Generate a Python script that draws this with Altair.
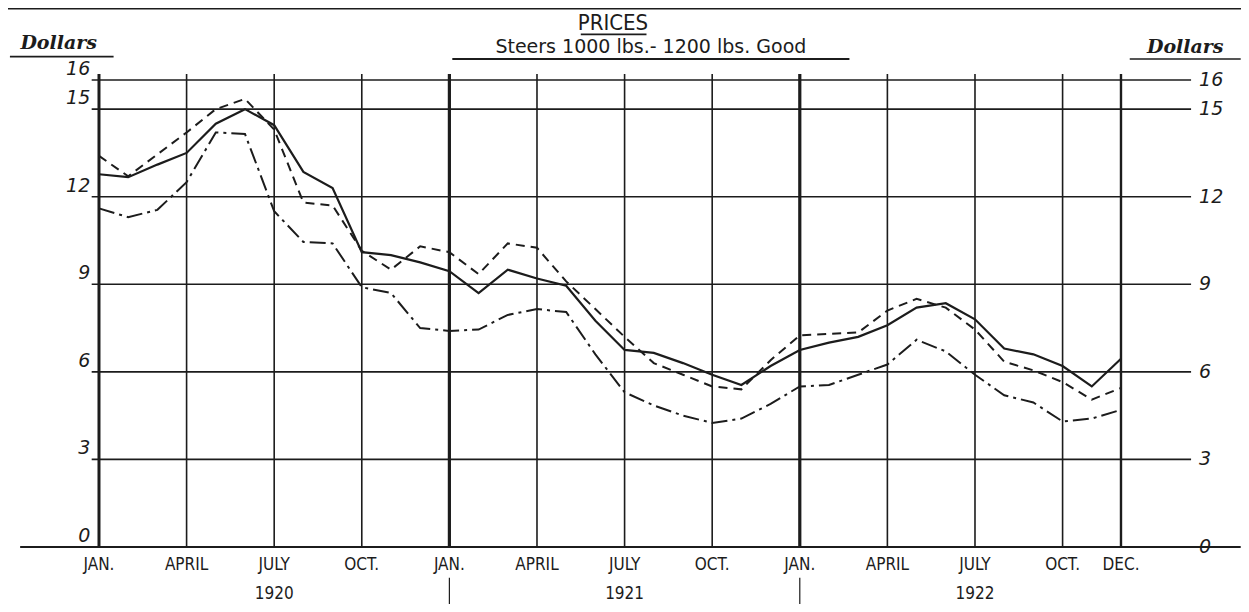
import altair as alt
import pandas as pd

# ---------------- data ----------------
months = list(range(36))  # Jan 1920 .. Dec 1922
solid = [12.77, 12.67, 13.1, 13.5, 14.5, 15.0, 14.45, 12.85, 12.3, 10.1, 10.0, 9.75,
         9.45, 8.7, 9.5, 9.2, 8.95, 7.75, 6.75, 6.65, 6.3, 5.9, 5.55, 6.2,
         6.75, 7.0, 7.2, 7.6, 8.2, 8.35, 7.8, 6.8, 6.6, 6.2, 5.5, 6.45]
dashed = [13.4, 12.7, 13.45, 14.2, 15.0, 15.35, 14.3, 11.8, 11.7, 10.15, 9.5, 10.3,
          10.1, 9.35, 10.4, 10.25, 9.1, 8.15, 7.2, 6.3, 5.9, 5.5, 5.4, 6.4,
          7.25, 7.3, 7.35, 8.1, 8.5, 8.2, 7.45, 6.35, 6.05, 5.65, 5.05, 5.45]
dashdot = [11.6, 11.3, 11.55, 12.5, 14.2, 14.15, 11.5, 10.45, 10.4, 8.9, 8.7, 7.5,
           7.4, 7.45, 7.95, 8.15, 8.05, 6.6, 5.3, 4.85, 4.5, 4.25, 4.4, 4.9,
           5.5, 5.55, 5.9, 6.25, 7.1, 6.7, 5.9, 5.2, 4.95, 4.3, 4.4, 4.7]

month_ticks = [0, 3, 6, 9, 12, 15, 18, 21, 24, 27, 30, 33, 35]
month_labels = ["JAN.", "APRIL", "JULY", "OCT.", "JAN.", "APRIL", "JULY", "OCT.",
                "JAN.", "APRIL", "JULY", "OCT.", "DEC."]
year_ticks = [6, 18, 30]
year_labels = ["1920", "1921", "1922"]
y_ticks = [0, 3, 6, 9, 12, 15, 16]
y_labels = ["0", "3", "6", "9", "12", "15", "16"]

title_text = "PRICES"
subtitle_text = "Steers  1000 lbs.- 1200 lbs. Good"
unit_text = "Dollars"

# ---------------- scales ----------------
XS = alt.Scale(domain=[-3.116, 39.11], nice=False, zero=False)
YS = alt.Scale(domain=[-1.953, 18.465], nice=False, zero=False)


def X(f):
    return alt.X(f, type="quantitative", scale=XS, axis=None)


def Y(f):
    return alt.Y(f, type="quantitative", scale=YS, axis=None)


INK = "#1c1c1c"

# horizontal grid lines
hgrid = pd.DataFrame({"v": [3, 6, 9, 12, 15, 16],
                      "m1": [-0.25] * 6, "m2": [37.4] * 6})
hgrid_layer = alt.Chart(hgrid).mark_rule(color=INK, strokeWidth=1.6).encode(
    x=X("m1"), x2=alt.X2("m2"), y=Y("v"))
zero_df = pd.DataFrame({"v": [0], "m1": [-2.7], "m2": [39.1]})
zero_layer = alt.Chart(zero_df).mark_rule(color=INK, strokeWidth=2).encode(
    x=X("m1"), x2=alt.X2("m2"), y=Y("v"))

# vertical grid lines
vm = [0, 3, 6, 9, 12, 15, 18, 21, 24, 27, 30, 33, 35]
vw = [3, 1.6, 1.6, 1.6, 3.2, 1.6, 1.6, 1.6, 3.2, 1.6, 1.6, 1.6, 2.4]
vgrid = pd.DataFrame({"m": vm, "v1": [0] * len(vm), "v2": [16.2] * len(vm), "w": vw})
vgrid_layer = alt.Chart(vgrid).mark_rule(color=INK).encode(
    x=X("m"), y=Y("v1"), y2=alt.Y2("v2"),
    strokeWidth=alt.StrokeWidth("w:Q", scale=None))
ydiv = pd.DataFrame({"m": [12, 24], "v1": [-1.05, -1.05], "v2": [-2.2, -2.2]})
ydiv_layer = alt.Chart(ydiv).mark_rule(color=INK, strokeWidth=1.2).encode(
    x=X("m"), y=Y("v1"), y2=alt.Y2("v2"))

# top border
top_df = pd.DataFrame({"v": [18.45], "m1": [-3.2], "m2": [39.2]})
top_layer = alt.Chart(top_df).mark_rule(color=INK, strokeWidth=2).encode(
    x=X("m1"), x2=alt.X2("m2"), y=Y("v"))

# series lines
df = pd.DataFrame({"m": months, "solid": solid, "dashed": dashed, "dashdot": dashdot})
line_solid = alt.Chart(df).mark_line(color=INK, strokeWidth=2.2).encode(
    x=X("m"), y=Y("solid"))
line_dashed = alt.Chart(df).mark_line(color=INK, strokeWidth=2, strokeDash=[9, 6]).encode(
    x=X("m"), y=Y("dashed"))
line_dashdot = alt.Chart(df).mark_line(color=INK, strokeWidth=2,
                                       strokeDash=[16, 5, 3, 5]).encode(
    x=X("m"), y=Y("dashdot"))

# y tick labels
LBL_FONT = "DejaVu Sans"
yl = pd.DataFrame({"v": y_ticks, "t": y_labels,
                   "ml": [-0.3] * len(y_ticks), "mr": [37.4] * len(y_ticks)})
left_lbl = alt.Chart(yl).mark_text(align="right", baseline="bottom", dx=0, dy=-1,
                                   font=LBL_FONT, fontStyle="italic", fontSize=19,
                                   color=INK).encode(
    x=X("ml"), y=Y("v"), text="t:N")
right_lbl = alt.Chart(yl).mark_text(align="left", baseline="middle", dx=8,
                                    font=LBL_FONT, fontStyle="italic", fontSize=19,
                                    color=INK).encode(
    x=X("mr"), y=Y("v"), text="t:N")

# month and year labels
ml = pd.DataFrame({"m": month_ticks, "t": month_labels, "v": [-0.6] * len(month_ticks)})
month_layer = alt.Chart(ml).mark_text(baseline="middle", font="DejaVu Sans Condensed, DejaVu Sans",
                                      fontSize=17, color=INK).encode(
    x=X("m"), y=Y("v"), text="t:N")
yr = pd.DataFrame({"m": year_ticks, "t": year_labels, "v": [-1.6] * 3})
year_layer = alt.Chart(yr).mark_text(baseline="middle", font="DejaVu Sans Condensed, DejaVu Sans",
                                     fontSize=17, color=INK).encode(
    x=X("m"), y=Y("v"), text="t:N")

# titles
tt = pd.DataFrame({"m": [17.6], "v": [17.95], "t": [title_text]})
title_layer = alt.Chart(tt).mark_text(baseline="middle", font="DejaVu Sans Condensed, DejaVu Sans",
                                      fontSize=22, color=INK).encode(
    x=X("m"), y=Y("v"), text="t:N")
st = pd.DataFrame({"m": [18.9], "v": [17.12], "t": [subtitle_text]})
sub_layer = alt.Chart(st).mark_text(baseline="middle", font="DejaVu Sans",
                                    fontSize=19, color=INK).encode(
    x=X("m"), y=Y("v"), text="t:N")
ut = pd.DataFrame({"m": [-1.38, 37.2], "v": [17.25, 17.12], "t": [unit_text, unit_text]})
unit_layer = alt.Chart(ut).mark_text(baseline="middle", font="DejaVu Serif", fontStyle="italic",
                                     fontWeight="bold", fontSize=19, color=INK).encode(
    x=X("m"), y=Y("v"), text="t:N")
ul = pd.DataFrame({"m1": [16.5, 12.1, -3.05, 35.3], "m2": [18.75, 25.7, 0.5, 39.1],
                   "v": [17.56, 16.72, 16.8, 16.72], "w": [1.6, 2, 1.6, 1.6]})
ul_layer = alt.Chart(ul).mark_rule(color=INK).encode(
    x=X("m1"), x2=alt.X2("m2"), y=Y("v"),
    strokeWidth=alt.StrokeWidth("w:Q", scale=None))

chart = alt.layer(
    top_layer, hgrid_layer, zero_layer, vgrid_layer, ydiv_layer,
    line_dashdot, line_dashed, line_solid,
    left_lbl, right_lbl, month_layer, year_layer,
    title_layer, sub_layer, unit_layer, ul_layer,
).properties(
    width=1233, height=596, autosize=alt.AutoSizeParams(type="none"), padding=0,
    background="white"
).configure_view(stroke=None)

chart.save("out.html", embed_options={"renderer": "svg", "actions": False})
